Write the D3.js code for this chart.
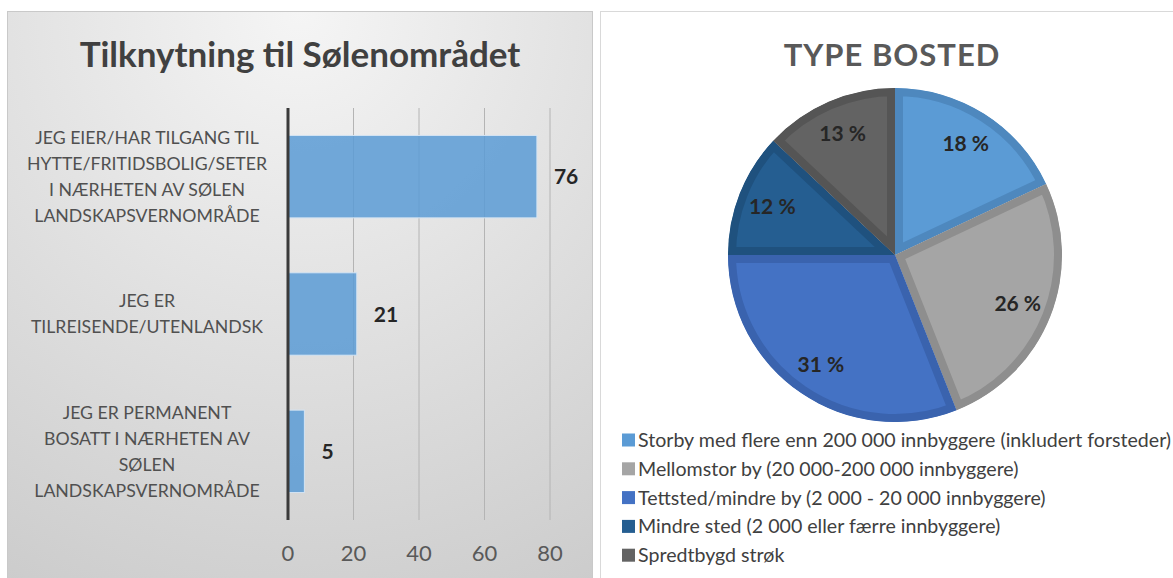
<!DOCTYPE html>
<html>
<head>
<meta charset="utf-8">
<script src="https://cdn.jsdelivr.net/npm/d3@7"></script>
<style>
  body { margin: 0; background: #fff; }
  text { font-family: Lato, "Open Sans", sans-serif; }
</style>
</head>
<body>
<script>
const W = 1173, H = 578;

// bar chart data
const barCats = [
  ["JEG EIER/HAR TILGANG TIL", "HYTTE/FRITIDSBOLIG/SETER", "I NÆRHETEN AV SØLEN", "LANDSKAPSVERNOMRÅDE"],
  ["JEG ER", "TILREISENDE/UTENLANDSK"],
  ["JEG ER PERMANENT", "BOSATT I NÆRHETEN AV", "SØLEN", "LANDSKAPSVERNOMRÅDE"]
];
const barValues = [76, 21, 5];
const barTicks = [0, 20, 40, 60, 80];

// pie data
const pieLabels = [
  "Storby med flere enn 200 000 innbyggere (inkludert forsteder)",
  "Mellomstor by (20 000-200 000 innbyggere)",
  "Tettsted/mindre by (2 000 - 20 000 innbyggere)",
  "Mindre sted (2 000 eller færre innbyggere)",
  "Spredtbygd strøk"
];
const pieValues = [18, 26, 31, 12, 13];
const pieColors = ["#5B9BD5", "#A5A5A5", "#4472C4", "#255E91", "#636363"];
const pieEdges = ["#4E88BE", "#8E8E8E", "#3A63AE", "#1F517E", "#555555"];

const svg = d3.select("body").append("svg")
    .attr("width", W)
    .attr("height", H);

const defs = svg.append("defs");
const grad = defs.append("radialGradient")
    .attr("id", "leftBg")
    .attr("cx", "50%").attr("cy", "0%").attr("r", "110%");
grad.append("stop").attr("offset", "0%").attr("stop-color", "#f5f5f5");
grad.append("stop").attr("offset", "100%").attr("stop-color", "#cbcbcb");

// ---------- left panel ----------
svg.append("rect")
    .attr("x", 7.5).attr("y", 11.5)
    .attr("width", 585).attr("height", 600)
    .attr("fill", "url(#leftBg)")
    .attr("stroke", "#c9c9c9");

svg.append("text")
    .attr("x", 300).attr("y", 67)
    .attr("text-anchor", "middle")
    .attr("font-size", 35)
    .attr("font-weight", "bold")
    .attr("fill", "#404040")
    .text("Tilknytning til Sølenområdet");

const x = d3.scaleLinear().domain([0, 80]).range([288, 550]);
const y = d3.scaleBand().domain(d3.range(barValues.length))
    .range([108, 520]).paddingInner(0.4).paddingOuter(0.2);

// gridlines
svg.append("g").selectAll("line")
    .data(barTicks.slice(1))
    .enter().append("line")
    .attr("x1", d => x(d)).attr("x2", d => x(d))
    .attr("y1", 108).attr("y2", 520)
    .attr("stroke", "#b4b4b4")
    .attr("stroke-width", 1);

// bars
svg.append("g").selectAll("rect")
    .data(barValues)
    .enter().append("rect")
    .attr("x", x(0))
    .attr("y", (d, i) => y(i))
    .attr("width", d => x(d) - x(0))
    .attr("height", y.bandwidth())
    .attr("fill", "#5B9BD5")
    .attr("fill-opacity", 0.85)
    .attr("stroke", "#d4e4f3")
    .attr("stroke-width", 1);

// axis line
svg.append("line")
    .attr("x1", x(0)).attr("x2", x(0))
    .attr("y1", 108).attr("y2", 520)
    .attr("stroke", "#3a3a3a")
    .attr("stroke-width", 3);

// value labels
svg.append("g").selectAll("text")
    .data(barValues)
    .enter().append("text")
    .attr("x", d => x(d) + 17)
    .attr("y", (d, i) => y(i) + y.bandwidth() / 2)
    .attr("dy", "0.36em")
    .attr("font-size", 21)
    .attr("font-weight", "bold")
    .attr("fill", "#262626")
    .text(d => d);

// category labels
const catG = svg.append("g").selectAll("text")
    .data(barCats)
    .enter().append("text")
    .attr("text-anchor", "middle")
    .attr("font-size", 17.7)
    .attr("fill", "#505050");
catG.each(function(lines, i) {
  const cy = y(i) + y.bandwidth() / 2;
  const start = cy - (lines.length - 1) * 26 / 2;
  d3.select(this).selectAll("tspan")
    .data(lines)
    .enter().append("tspan")
    .attr("x", 147)
    .attr("y", (l, j) => start + j * 26)
    .attr("dy", "0.36em")
    .text(l => l);
});

// tick labels
svg.append("g").selectAll("text")
    .data(barTicks)
    .enter().append("text")
    .attr("x", d => x(d))
    .attr("y", 553)
    .attr("dy", "0.36em")
    .attr("text-anchor", "middle")
    .attr("font-size", 22)
    .attr("fill", "#595959")
    .text(d => d);

// ---------- right panel ----------
svg.append("rect")
    .attr("x", 600.5).attr("y", 11.5)
    .attr("width", 700).attr("height", 600)
    .attr("fill", "#ffffff")
    .attr("stroke", "#d9d9d9");

svg.append("text")
    .attr("x", 892).attr("y", 66)
    .attr("text-anchor", "middle")
    .attr("font-size", 31)
    .attr("font-weight", "bold")
    .attr("letter-spacing", 1)
    .attr("fill", "#595959")
    .text("TYPE BOSTED");

const cx = 895, cy = 255, R = 167;
const pie = d3.pie().sort(null).value(d => d);
const arcs = pie(pieValues);
const arc = d3.arc().innerRadius(0).outerRadius(R);
const labelArc = d3.arc().innerRadius(132).outerRadius(132);

const pieG = svg.append("g").attr("transform", `translate(${cx},${cy})`);

arcs.forEach((a, i) => {
  defs.append("clipPath").attr("id", "slice" + i)
    .append("path").attr("d", arc(a));
});

pieG.selectAll("path.slice")
    .data(arcs)
    .enter().append("path")
    .attr("class", "slice")
    .attr("d", arc)
    .attr("fill", (d, i) => pieColors[i])
    .attr("stroke", (d, i) => pieEdges[i])
    .attr("stroke-width", 16)
    .attr("stroke-linejoin", "miter")
    .attr("clip-path", (d, i) => `url(#slice${i})`);

pieG.selectAll("text")
    .data(arcs)
    .enter().append("text")
    .attr("transform", d => `translate(${labelArc.centroid(d)})`)
    .attr("text-anchor", "middle")
    .attr("dy", "0.36em")
    .attr("font-size", 21)
    .attr("font-weight", "bold")
    .attr("fill", "#262626")
    .text(d => d.data + " %");

// legend
const leg = svg.append("g").selectAll("g")
    .data(pieLabels)
    .enter().append("g")
    .attr("transform", (d, i) => `translate(622,${440 + i * 28.8})`);
leg.append("rect")
    .attr("x", 0).attr("y", -6.5)
    .attr("width", 13).attr("height", 13)
    .attr("fill", (d, i) => pieColors[i]);
leg.append("text")
    .attr("x", 16)
    .attr("dy", "0.36em")
    .attr("font-size", 19.6)
    .attr("fill", "#404040")
    .text(d => d);
</script>
</body>
</html>
